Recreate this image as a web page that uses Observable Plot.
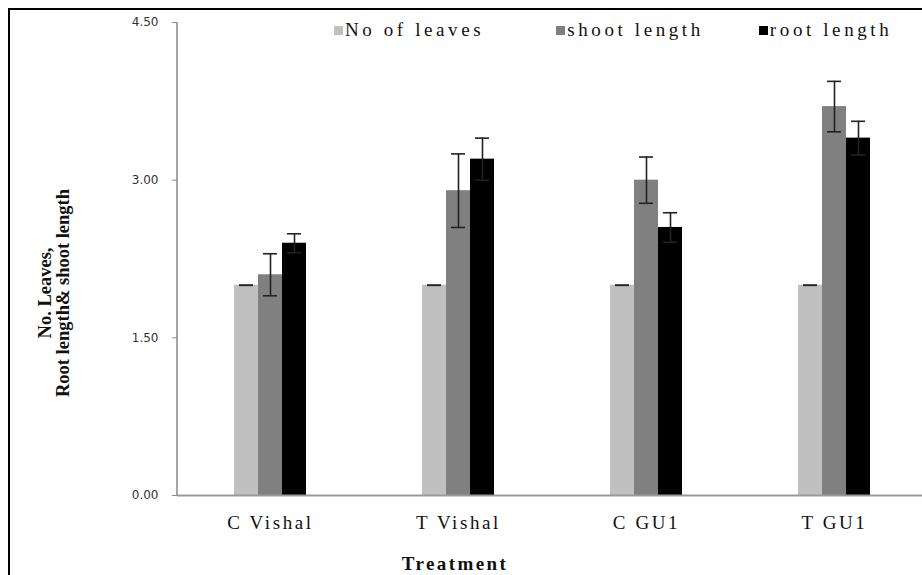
<!DOCTYPE html>
<html>
<head>
<meta charset="utf-8">
<script src="https://cdn.jsdelivr.net/npm/d3@7"></script>
<script src="https://cdn.jsdelivr.net/npm/@observablehq/plot@0.6"></script>
<style>
  html, body { margin: 0; padding: 0; background: #fff; }
  #wrap { position: relative; width: 922px; height: 575px; overflow: hidden; background: #fff; }
  #border { position: absolute; left: 8px; top: 8px; right: -10px; bottom: -10px;
            border-left: 2px solid #000; border-top: 2px solid #000; pointer-events: none; }
  #legend { position: absolute; left: 334px; top: 19px; width: 700px; }
  #legend > div { flex-wrap: nowrap !important; min-height: 0 !important; width: 700px; margin: 0 !important; }
  #legend .lg-swatch { white-space: nowrap; font-family: "Liberation Serif", serif; font-size: 19px;
                       letter-spacing: 3.6px; color: #111; margin-right: 0 !important; }
  #legend .lg-swatch:nth-child(2) { margin-right: 72px !important; }
  #legend .lg-swatch:nth-child(3) { margin-right: 55px !important; }
  #legend .lg-swatch > svg { margin-right: 2px !important; }
  #chart g[aria-label="x-axis tick label"] text { letter-spacing: 2.6px; }
</style>
</head>
<body>
<div id="wrap">
  <div id="chart"></div>
  <div id="legend"></div>
  <div id="border"></div>
</div>
<script>
// ---- data ----
const treatments = ["C Vishal", "T Vishal", "C GU1", "T GU1"];
const seriesNames = ["No of leaves", "shoot length", "root length"];
const seriesColors = ["#c0c0c0", "#808080", "#000000"];
const leaves    = [2.00, 2.00, 2.00, 2.00];
const leavesErr = [0.00, 0.00, 0.00, 0.00];
const shoot     = [2.10, 2.90, 3.00, 3.70];
const shootErr  = [0.20, 0.35, 0.22, 0.24];
const root      = [2.40, 3.20, 2.55, 3.40];
const rootErr   = [0.09, 0.20, 0.14, 0.16];
const yTicks = [0, 1.5, 3, 4.5];
const yTitle = "No. Leaves,\nRoot length& shoot length";
const xTitle = "Treatment";

const rows = treatments.map((t, i) => ({
  treatment: t,
  leaves: leaves[i], leavesErr: leavesErr[i],
  shoot: shoot[i], shootErr: shootErr[i],
  root: root[i], rootErr: rootErr[i]
}));

// ---- layout / style ----
const W = 922, H = 575;
const mL = 177, mR = 0, mT = 22, mB = 80;
const bw = 24;          // width of one bar within a group
const capHalf = 7;      // half width of error caps
const errStroke = "#222";
const serif = "'Liberation Serif', 'Times New Roman', serif";

function errMarks(key, errKey, slot) {
  const dx = (slot - 1) * bw;
  const cx = slot * bw + bw / 2;
  const inL = cx - capHalf, inR = 3 * bw - cx - capHalf;
  return [
    Plot.ruleX(rows, {x: "treatment", y1: d => d[key] - d[errKey], y2: d => d[key] + d[errKey],
      dx, stroke: errStroke, strokeWidth: 1.6}),
    Plot.tickY(rows, {x: "treatment", y: d => d[key] + d[errKey], insetLeft: inL, insetRight: inR,
      stroke: errStroke, strokeWidth: 1.6}),
    Plot.tickY(rows, {x: "treatment", y: d => d[key] - d[errKey], insetLeft: inL, insetRight: inR,
      stroke: errStroke, strokeWidth: 1.6})
  ];
}

const chart = Plot.plot({
  width: W, height: H,
  marginLeft: mL, marginRight: mR, marginTop: mT, marginBottom: mB,
  style: {background: "#fff", overflow: "visible"},
  x: {type: "band", domain: treatments, range: [176, 929], paddingInner: 0.617, paddingOuter: 0.3085, axis: null},
  y: {domain: [0, 4.5], axis: null},
  color: {domain: seriesNames, range: seriesColors},
  marks: [
    Plot.barY(rows, {x: "treatment", y: "leaves", fill: () => seriesNames[0], insetRight: 2 * bw}),
    Plot.barY(rows, {x: "treatment", y: "shoot",  fill: () => seriesNames[1], insetLeft: bw, insetRight: bw}),
    Plot.barY(rows, {x: "treatment", y: "root",   fill: () => seriesNames[2], insetLeft: 2 * bw}),
    ...errMarks("leaves", "leavesErr", 0),
    ...errMarks("shoot", "shootErr", 1),
    ...errMarks("root", "rootErr", 2),
    Plot.ruleY([0], {stroke: "#999", strokeWidth: 1.8}),
    Plot.axisY({ticks: yTicks, tickFormat: d => d.toFixed(2), tickSize: 5, tickPadding: 14,
      stroke: "#888", fill: "#333", fontSize: 12, fontFamily: "'DejaVu Sans', Verdana, sans-serif", label: null}),
    Plot.axisX({tickSize: 0, tickPadding: 20, fontSize: 19, fontFamily: serif, fill: "#111", label: null}),
    Plot.text([yTitle], {text: d => d, frameAnchor: "left", textAnchor: "middle", rotate: -90, dx: -123, dy: 34,
      fontSize: 18.5, fontWeight: "bold", fontFamily: serif, lineHeight: 0.98, fill: "#111"}),
    Plot.text([xTitle], {text: d => d, frameAnchor: "bottom", dx: -95, dy: 74,
      fontSize: 19, fontWeight: "bold", fontFamily: serif, fill: "#111"})
  ]
});

// y axis line drawn with the chart's own y scale
const ys = chart.scale("y");
d3.select(chart).append("line")
  .attr("x1", mL).attr("x2", mL)
  .attr("y1", ys.apply(0)).attr("y2", ys.apply(4.5))
  .attr("stroke", "#888").attr("stroke-width", 1.5);

// letter spacing for the x title
d3.select(chart).selectAll("text")
  .filter(function() { return this.textContent === xTitle; })
  .style("letter-spacing", "2.4px");

document.getElementById("chart").appendChild(chart);

const legend = chart.legend("color", {legend: "swatches", swatchSize: 9, className: "lg"});
document.getElementById("legend").appendChild(legend);
</script>
</body>
</html>
